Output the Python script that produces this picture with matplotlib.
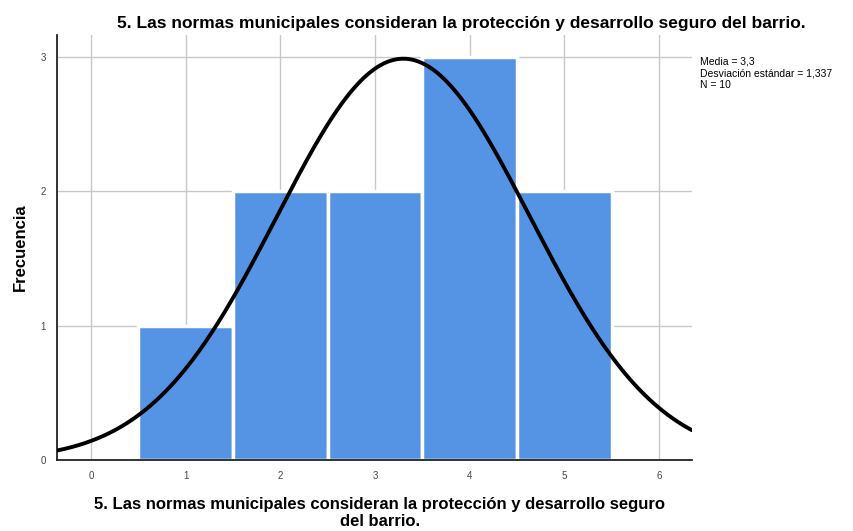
import matplotlib
matplotlib.use("Agg")
import matplotlib.pyplot as plt
import numpy as np

# frequency table
valores = [1, 2, 3, 4, 5]
frecuencias = [1, 2, 2, 3, 2]
media = 3.3
desv = 1.337
n = 10

titulo = "5. Las normas municipales consideran la protección y desarrollo seguro del barrio."
xlabel = "5. Las normas municipales consideran la protección y desarrollo seguro\ndel barrio."

plt.rcParams["font.family"] = ["Liberation Sans", "DejaVu Sans"]

fig = plt.figure(figsize=(8.54, 5.31), dpi=100)
ax = fig.add_axes([57 / 854, 1 - 460 / 531, (692 - 57) / 854, (460 - 35) / 531])

ax.bar(valores, frecuencias, width=1.0, color="#5594e4", edgecolor="white",
       linewidth=2.5, zorder=2)

xs = np.linspace(-0.36, 6.35, 400)
ys = n * 1.0 * np.exp(-0.5 * ((xs - media) / desv) ** 2) / (desv * np.sqrt(2 * np.pi))
ax.plot(xs, ys, color="black", linewidth=2.8, zorder=3, solid_capstyle="round")

ax.set_xlim(-0.36, 6.35)
ax.set_ylim(0, 3.16)
ax.set_xticks(range(0, 7))
ax.set_yticks(range(0, 4))
ax.grid(True, color="#c8c8c8", linewidth=1.0, zorder=0)
ax.set_axisbelow(True)
for s in ["top", "right"]:
    ax.spines[s].set_visible(False)
for s in ["left", "bottom"]:
    ax.spines[s].set_color("#222222")
    ax.spines[s].set_linewidth(1.3)
ax.tick_params(length=0, labelsize=7, labelcolor="#444444", pad=8)

fig.text(20 / 854, 1 - 247 / 531, "Frecuencia", rotation=90, ha="center", va="center",
         fontsize=12, fontweight="bold")
fig.text(380 / 854, 1 - 513 / 531, xlabel, ha="center", va="center", fontsize=12,
         fontweight="bold", linespacing=1.15, multialignment="center")
fig.text(0.54, 0.955, titulo, ha="center", va="center", fontsize=12.5, fontweight="bold")

fig.text(700 / 854, 1 - 57 / 531,
         f"Media = {media:.1f}".replace(".", ",") + "\n"
         + f"Desviación estándar = {desv:.3f}".replace(".", ",") + f"\nN = {n}",
         ha="left", va="top", fontsize=7.5, linespacing=1.2)

fig.savefig("out.png", dpi=100)
